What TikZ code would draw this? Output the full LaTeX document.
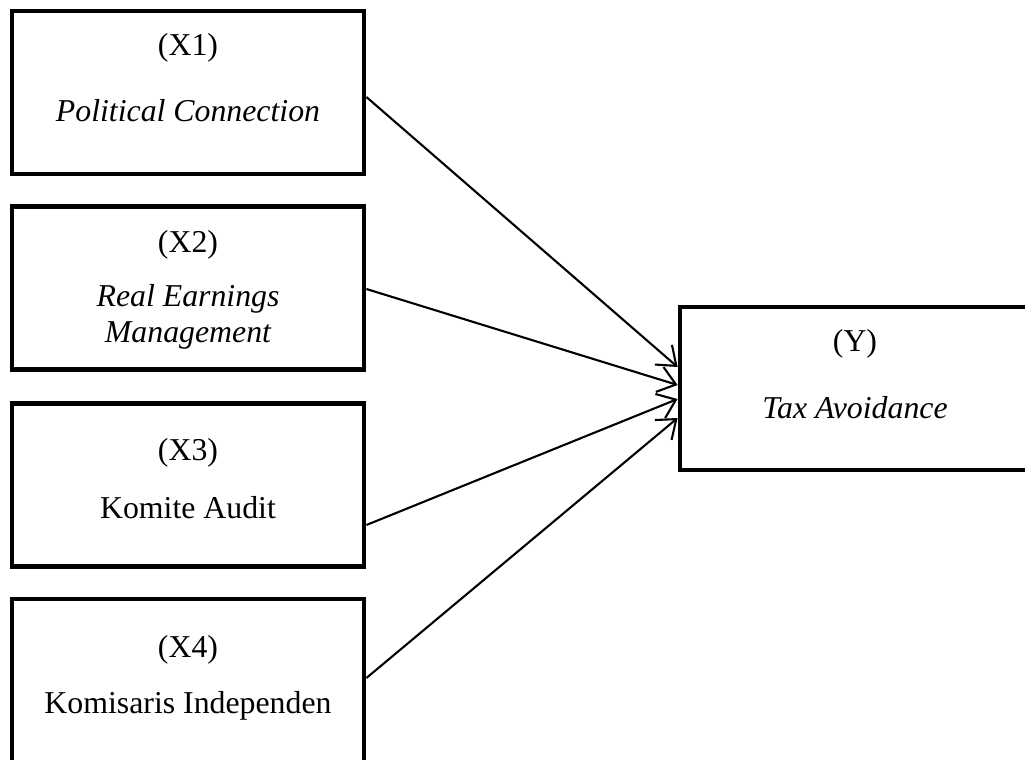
\documentclass[tikz,border=0pt]{standalone}
\usepackage{fontspec}
\setmainfont{Liberation Serif}
\usetikzlibrary{arrows.meta}
\begin{document}
\begin{tikzpicture}[x=1pt,y=-1pt,
  box/.style={draw,line width=4.8pt,minimum width=352pt,minimum height=163pt,inner sep=0pt},
  lbl/.style={anchor=base,inner sep=0pt,font=\fontsize{31.8}{36}\selectfont,align=center},
  arr/.style={line width=2.1pt,-{Straight Barb[length=17pt,width=26pt,line width=2.1pt]}}]
\useasboundingbox (0,0) rectangle (1025,760);
\node[box] (x1) at (188,92.5) {};
\node[box] (x2) at (188,288) {};
\node[box] (x3) at (188,485) {};
\node[box] (x4) at (188,680.5) {};
\node[box,minimum width=350pt] (y) at (855,388.5) {};
\node[lbl] (t1a) at (188,56) {(X1)};
\node[lbl] (t1b) at (188,121) {\itshape Political Connection};
\node[lbl] (t2a) at (188,252) {(X2)};
\node[lbl] (t2b) at (188,342) {\itshape Real Earnings\\\itshape Management};
\node[lbl] (t3a) at (188,460) {(X3)};
\node[lbl] (t3b) at (188,518) {Komite Audit};
\node[lbl] (t4a) at (188,657) {(X4)};
\node[lbl] (t4b) at (188,713) {Komisaris Independen};
\node[lbl] (tya) at (855,351) {(Y)};
\node[lbl] (tyb) at (855,418) {\itshape Tax Avoidance};
\draw[arr] (x1.east |- 0,97) -- (y.west |- 0,367);
\draw[arr] (x2.east |- 0,289) -- (y.west |- 0,385);
\draw[arr] (x3.east |- 0,525) -- (y.west |- 0,399);
\draw[arr] (x4.east |- 0,678) -- (y.west |- 0,418);
\end{tikzpicture}
\end{document}
